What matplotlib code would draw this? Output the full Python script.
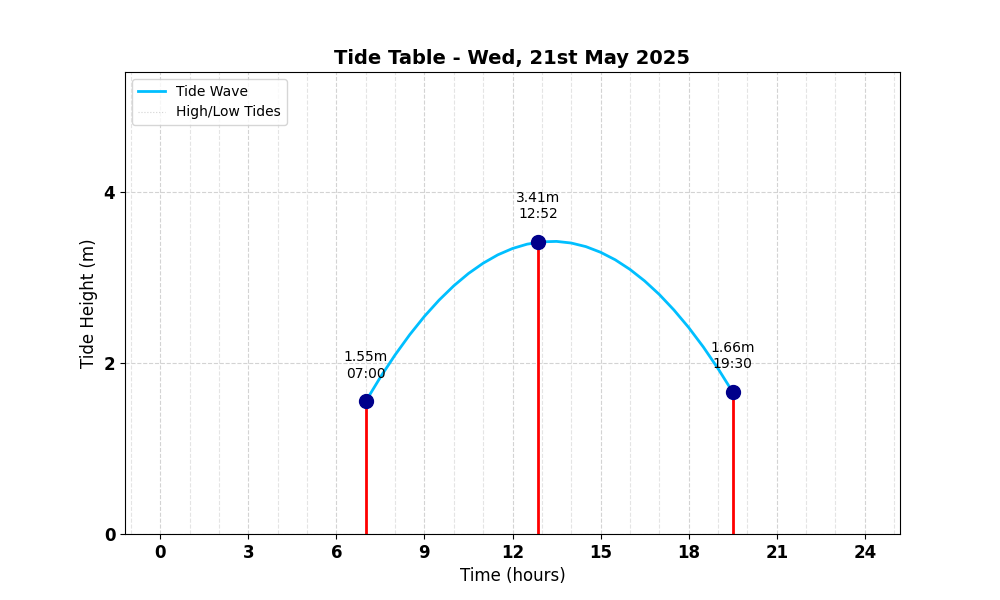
import matplotlib
matplotlib.use("Agg")
from matplotlib import pyplot as plt
from matplotlib.ticker import MultipleLocator

# tide extremes (hours, metres)
tide_hours = [7.0, 12 + 52 / 60, 19.5]
tide_heights = [1.55, 3.41, 1.66]
tide_times = ["07:00", "12:52", "19:30"]

# tide wave, every half hour from 07:00 to 19:30
wave_hours = [7.0, 7.5, 8.0, 8.5, 9.0, 9.5, 10.0, 10.5, 11.0, 11.5, 12.0, 12.5, 13.0,
              13.5, 14.0, 14.5, 15.0, 15.5, 16.0, 16.5, 17.0, 17.5, 18.0, 18.5, 19.0, 19.5]
wave_heights = [1.550, 1.833, 2.093, 2.330, 2.544, 2.734, 2.901, 3.045, 3.165, 3.263, 3.337,
                3.388, 3.415, 3.420, 3.401, 3.359, 3.293, 3.205, 3.093, 2.958, 2.800, 2.618,
                2.414, 2.186, 1.934, 1.660]

fig, ax = plt.subplots(figsize=(10, 6), dpi=100)

ax.plot(wave_hours, wave_heights, color="deepskyblue", linewidth=2, label="Tide Wave")
ax.vlines(tide_hours, 0, tide_heights, color="red", linewidth=2)
ax.plot([], [], color="lightgray", linestyle=":", linewidth=0.8, label="High/Low Tides")
ax.scatter(tide_hours, tide_heights, color="darkblue", s=100, zorder=5)

for h, v, t in zip(tide_hours, tide_heights, tide_times):
    ax.annotate(f"{v:.2f}m\n{t}", (h, v), textcoords="offset points", xytext=(0, 15),
                ha="center", va="bottom", fontsize=10)

ax.set_xlim(-1.2, 25.2)
ax.set_ylim(0, 5.4)
ax.xaxis.set_major_locator(MultipleLocator(3))
ax.xaxis.set_minor_locator(MultipleLocator(1))
ax.yaxis.set_major_locator(MultipleLocator(2))
ax.tick_params(axis="x", which="minor", length=0)
ax.grid(True, which="major", linestyle="--", color="lightgray", alpha=1, linewidth=0.8)
ax.grid(True, which="minor", axis="x", linestyle="--", color="lightgray", alpha=0.6, linewidth=0.8)

for lbl in ax.get_xticklabels() + ax.get_yticklabels():
    lbl.set_fontweight("bold")
    lbl.set_fontsize(12)

ax.set_title("Tide Table - Wed, 21st May 2025", fontsize=14, fontweight="bold")
ax.set_xlabel("Time (hours)", fontsize=12)
ax.set_ylabel("Tide Height (m)", fontsize=12)
ax.legend(loc="upper left")

plt.savefig("out.png")
